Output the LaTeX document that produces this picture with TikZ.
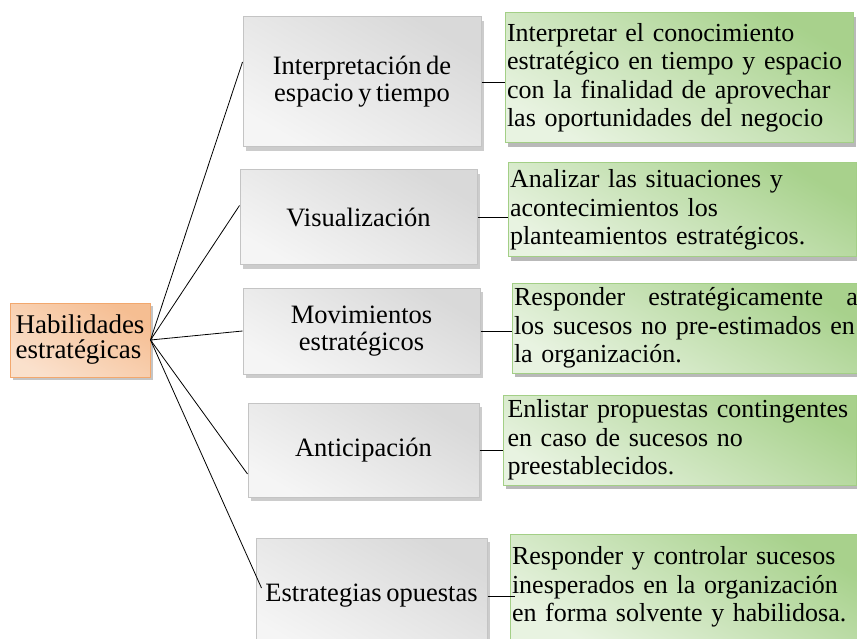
\documentclass[tikz,border=0pt]{standalone}
\usepackage{fontspec}
\setmainfont{Liberation Serif}[WordSpace=0.7]
\usepackage{tikz}
\usetikzlibrary{shadows}

\definecolor{boxgray}{HTML}{C4C4C4}
\definecolor{leafgreen}{HTML}{A3CF86}
\definecolor{rootorange}{HTML}{F2A86E}
\hyphenpenalty=10000
\exhyphenpenalty=10000

\begin{document}
\begin{tikzpicture}[x=1pt,y=-1pt,
    every node/.style={inner sep=4pt},
    root/.style={draw=rootorange, line width=1pt, left color=rootorange!35, right color=rootorange!75,
      shading angle=150, drop shadow={shadow xshift=3pt, shadow yshift=-3pt, fill=black!45},
      font=\fontsize{27}{25}\selectfont, minimum width=140pt, minimum height=74pt, align=left, inner xsep=2pt},
    skill/.style={draw=boxgray, line width=1pt, left color=gray!8, right color=gray!30,
      shading angle=150, drop shadow={shadow xshift=3pt, shadow yshift=-4pt, fill=black!40},
      font=\fontsize{26.5}{27}\selectfont, align=center},
    idea/.style={draw=leafgreen, line width=1pt, left color=leafgreen!25, right color=leafgreen!95,
      shading angle=150, drop shadow={shadow xshift=3pt, shadow yshift=-4pt, fill=black!55},
      font=\fontsize{26}{28.5}\selectfont, align=left, text width=344pt, inner xsep=2pt},
    link/.style={draw=black, line width=0.8pt}]
    \useasboundingbox (0,0) rectangle (857,639);

    % root
    \node[root] (hab) at (80,340) {Habilidades\\estratégicas};

    % middle column
    \node[skill, minimum width=238pt, minimum height=130pt] (g1) at (362,82) {Interpretación de\\espacio y tiempo};
    \node[skill, minimum width=237pt, minimum height=95pt] (g2) at (358.5,217.5) {Visualización};
    \node[skill, minimum width=237pt, minimum height=86pt] (g3) at (361.5,331) {Movimientos\\estratégicos};
    \node[skill, minimum width=231pt, minimum height=94pt] (g4) at (363.5,450) {Anticipación};
    \node[skill, minimum width=231pt, minimum height=116pt] (g5) at (371.5,596) {Estrategias opuestas};

    % right column
    \node[idea, minimum height=130pt] (n1) at (679,78)
      {Interpretar el conocimiento\\estratégico en tiempo y espacio\\con la finalidad de aprovechar\\las oportunidades del negocio};
    \node[idea, minimum height=94pt] (n2) at (682,210)
      {Analizar las situaciones y\\acontecimientos los\\planteamientos estratégicos.};
    \node[idea, minimum height=90pt] (n3) at (686,328)
      {Responder\hfill estratégicamente\hfill a\\los sucesos no pre-estimados en\\la organización.};
    \node[idea, minimum width=353pt, minimum height=90pt] (n4) at (679.5,440)
      {Enlistar propuestas contingentes\\en caso de sucesos no\\preestablecidos.};
    \node[idea, minimum height=106pt] (n5) at (684,587)
      {Responder y controlar sucesos\\inesperados en la organización\\en forma solvente y habilidosa.};

    % connectors
    \draw[link] (hab.east) -- ([yshift=20pt]g1.west);
    \draw[link] (hab.east) -- ([yshift=12pt]g2.west);
    \draw[link] (hab.east) -- (g3.west);
    \draw[link] (hab.east) -- ([yshift=-24pt]g4.west);
    \draw[link] (hab.east) -- ([shift={(6pt,8pt)}]g5.west);

    \draw[link] (g1.east) -- (g1.east -| n1.west);
    \draw[link] (g2.east) -- (g2.east -| n2.west);
    \draw[link] (g3.east) -- (g3.east -| n3.west);
    \draw[link] (g4.east) -- (g4.east -| n4.west);
    \draw[link] (g5.east) -- ([xshift=5pt]g5.east -| n5.west);
\end{tikzpicture}
\end{document}
